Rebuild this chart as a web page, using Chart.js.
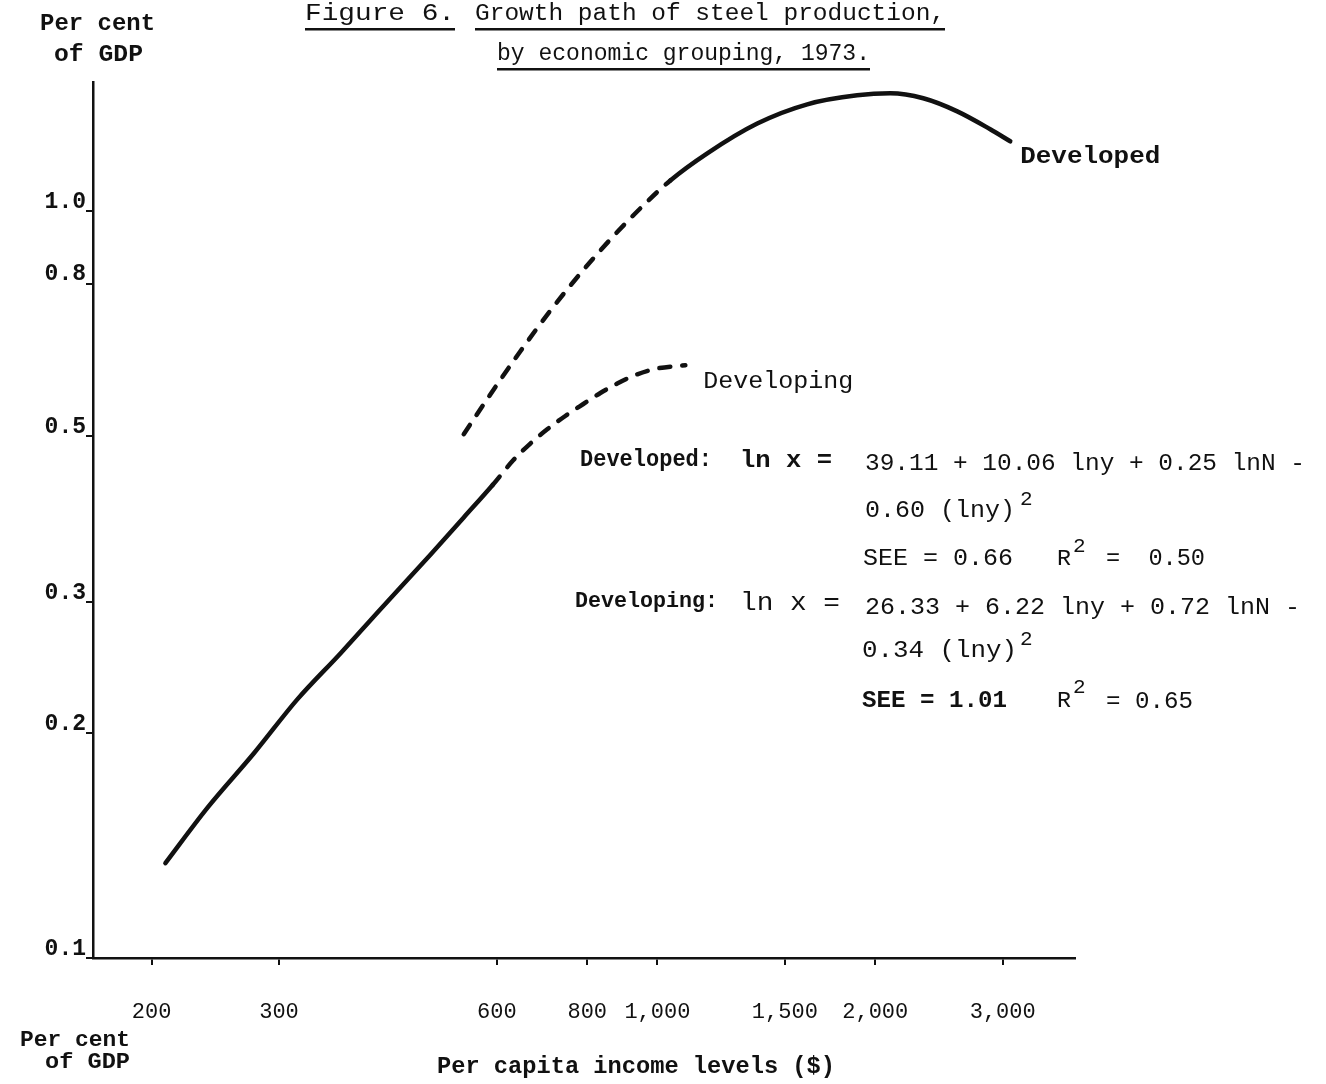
<!DOCTYPE html>
<html>
<head>
<meta charset="utf-8">
<title>Figure 6. Growth path of steel production</title>
<script src="https://cdn.jsdelivr.net/npm/chart.js@4.4.1/dist/chart.umd.min.js"></script>
<style>
  body { margin: 0; background: #fff; }
  #wrap { width: 1326px; height: 1084px; }
</style>
</head>
<body>
<div id="wrap"><canvas id="steelChart" width="1326" height="1084"></canvas></div>
<script>
// ---- Data ----
const xTicks = [200, 300, 600, 800, 1000, 1500, 2000, 3000];
const yTicks = [0.1, 0.2, 0.3, 0.5, 0.8, 1.0];

// Developed: dashed up to ~1,040 $, solid afterwards
const developedX = [540, 588, 647, 712, 783, 861, 947, 1042, 1172, 1374, 1611, 1888, 2098, 2330, 2596, 2883, 3073];
const developedY = [0.503, 0.569, 0.650, 0.737, 0.826, 0.917, 1.009, 1.100, 1.196, 1.311, 1.391, 1.430, 1.439, 1.417, 1.361, 1.288, 1.241];
const developedSolidFrom = 1042;

// Developing: solid up to ~590 $, dashed afterwards
const developingX = [209, 239, 277, 318, 365, 414, 486, 540, 592, 632, 668, 705, 746, 790, 834, 880, 938, 1000, 1093];
const developingY = [0.134, 0.159, 0.188, 0.222, 0.256, 0.293, 0.347, 0.389, 0.430, 0.464, 0.489, 0.511, 0.532, 0.552, 0.571, 0.588, 0.605, 0.616, 0.622];
const developingDashFrom = 592;

const FONT = "'Liberation Mono', 'DejaVu Sans Mono', monospace";
const INK  = "#111";
const DASH = [11, 12];

function pts(xs, ys) {
  return xs.map((x, i) => ({ x, y: ys[i] }));
}

// ---- Annotations (title, axis titles, curve labels, equations) ----
// draws s starting at x, squeezed/stretched to width w
function fit(ctx, s, x, y, w, size, bold, underline) {
  ctx.font = (bold ? "bold " : "") + size + "px " + FONT;
  const m = ctx.measureText(s).width;
  ctx.save();
  ctx.translate(x, y);
  ctx.scale(w / m, 1);
  ctx.fillText(s, 0, 0);
  ctx.restore();
  if (underline) ctx.fillRect(x, y + 8, w, 2.5);
}

function sup(ctx, x, y) {
  ctx.font = "21px " + FONT;
  ctx.fillText("2", x, y);
}

const labelPlugin = {
  id: "labels",
  afterDraw(chart) {
    const ctx = chart.ctx;
    const xs = chart.scales.x, ys = chart.scales.y;
    ctx.save();
    ctx.fillStyle = INK;
    ctx.textBaseline = "alphabetic";
    ctx.textAlign = "left";

    // title
    fit(ctx, "Figure 6.", 305, 20, 150, 23, false, true);
    fit(ctx, "Growth path of steel production,", 475, 20, 470, 23, false, true);
    fit(ctx, "by economic grouping, 1973.", 497, 60, 373, 23, false, true);

    // y axis title (top) and its scanned duplicate at the bottom
    fit(ctx, "Per cent", 40, 30, 115, 23, true);
    fit(ctx, "of GDP", 54, 61, 89, 23, true);
    fit(ctx, "Per cent", 20, 1046, 110, 22, true);
    fit(ctx, "of GDP", 45, 1068, 85, 22, true);

    // x axis title
    fit(ctx, "Per capita income levels ($)", 437, 1073, 398, 23, true);

    // curve labels, placed next to each curve's last point
    const dN = developedX.length - 1;
    fit(ctx, "Developed", xs.getPixelForValue(developedX[dN]) + 10,
        ys.getPixelForValue(developedY[dN]) + 22, 140, 24, true);
    const gN = developingX.length - 1;
    fit(ctx, "Developing", xs.getPixelForValue(developingX[gN]) + 18,
        ys.getPixelForValue(developingY[gN]) + 23, 150, 24, false);

    // regression equations
    fit(ctx, "Developed:", 580, 466, 132, 23, true);
    fit(ctx, "ln x =", 740, 467, 92, 23, true);
    fit(ctx, "39.11 + 10.06 lny + 0.25 lnN -", 865, 470, 440, 24, false);
    fit(ctx, "0.60 (lny)", 865, 517, 150, 24, false);
    sup(ctx, 1020, 505);
    fit(ctx, "SEE = 0.66", 863, 565, 150, 24, false);
    fit(ctx, "R", 1057, 565, 14, 22, false);
    sup(ctx, 1073, 552);
    fit(ctx, "=  0.50", 1106, 565, 99, 24, false);

    fit(ctx, "Developing:", 575, 607, 143, 22, true);
    fit(ctx, "ln x =", 740, 610, 100, 25, false);
    fit(ctx, "26.33 + 6.22 lny + 0.72 lnN -", 865, 614, 435, 24, false);
    fit(ctx, "0.34 (lny)", 862, 657, 155, 24, false);
    sup(ctx, 1020, 645);
    fit(ctx, "SEE = 1.01", 862, 707, 145, 24, true);
    fit(ctx, "R", 1057, 707, 14, 22, false);
    sup(ctx, 1073, 693);
    fit(ctx, "= 0.65", 1106, 708, 87, 24, false);

    ctx.restore();
  }
};

const ctx = document.getElementById("steelChart").getContext("2d");
new Chart(ctx, {
  type: "line",
  data: {
    datasets: [
      {
        label: "Developed",
        data: pts(developedX, developedY),
        borderColor: INK,
        borderWidth: 4.5,
        borderCapStyle: "round",
        pointRadius: 0,
        cubicInterpolationMode: "monotone",
        fill: false,
        segment: {
          borderDash: c => c.p1.parsed.x <= developedSolidFrom ? DASH : []
        }
      },
      {
        label: "Developing",
        data: pts(developingX, developingY),
        borderColor: INK,
        borderWidth: 4.5,
        borderCapStyle: "round",
        pointRadius: 0,
        cubicInterpolationMode: "monotone",
        fill: false,
        segment: {
          borderDash: c => c.p0.parsed.x >= developingDashFrom ? DASH : []
        }
      }
    ]
  },
  options: {
    responsive: false,
    animation: false,
    layout: { padding: { left: 0, top: 82, right: 251, bottom: 0 } },
    plugins: {
      legend: { display: false },
      tooltip: { enabled: false },
      title: { display: false }
    },
    scales: {
      x: {
        type: "logarithmic",
        min: 166,
        max: 3776,
        afterBuildTicks: s => { s.ticks = xTicks.map(v => ({ value: v })); },
        afterFit: s => { s.height = 126; },
        ticks: {
          callback: v => Number(v).toLocaleString("en-US"),
          color: INK,
          font: { family: FONT, size: 22 },
          padding: 34,
          maxRotation: 0,
          autoSkip: false
        },
        grid: { drawOnChartArea: false, tickLength: 7, color: INK, lineWidth: 2 },
        border: { color: INK, width: 2.5 }
      },
      y: {
        type: "logarithmic",
        min: 0.1,
        max: 1.49,
        afterBuildTicks: s => { s.ticks = yTicks.map(v => ({ value: v })); },
        afterFit: s => { s.width = 93; },
        ticks: {
          callback: v => Number(v).toFixed(1),
          color: INK,
          font: { family: FONT, size: 23, weight: "bold" },
          padding: 0,
          labelOffset: -9,
          autoSkip: false
        },
        grid: { drawOnChartArea: false, tickLength: 7, color: INK, lineWidth: 2 },
        border: { color: INK, width: 2.5 }
      }
    }
  },
  plugins: [labelPlugin]
});
</script>
</body>
</html>
